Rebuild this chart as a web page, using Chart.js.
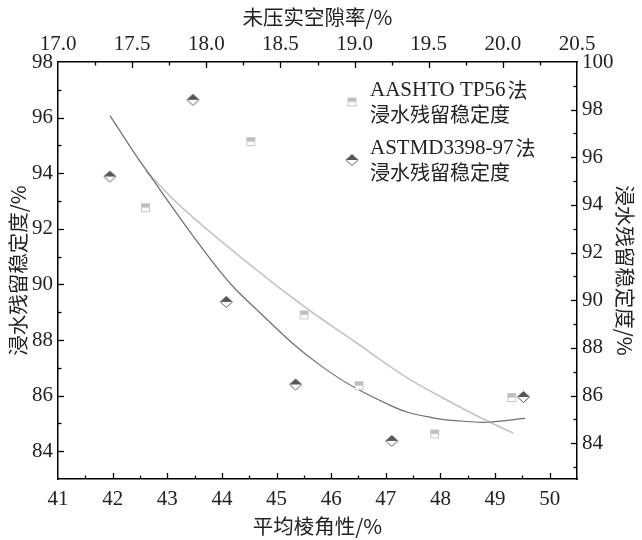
<!DOCTYPE html>
<html>
<head>
<meta charset="utf-8">
<script src="https://cdn.jsdelivr.net/npm/chart.js@4.4.1/dist/chart.umd.min.js"></script>
<style>
  html, body { margin: 0; padding: 0; background: #fff; }
</style>
</head>
<body>
<canvas id="myChart" width="642" height="540"></canvas>
<script>
// ASTM D3398-97 points: bottom axis (angularity) / left axis
const astmAngularity = [41.95, 43.47, 44.08, 45.35, 47.11, 49.52];
const astmStability = [93.88, 96.64, 89.37, 86.40, 84.37, 85.95];

// AASHTO TP56 points: top axis (void ratio) / right axis
const aashtoVoids = [17.59, 18.30, 18.66, 19.03, 19.54, 20.06];
const aashtoStability = [93.89, 96.66, 89.39, 86.42, 84.39, 85.92];

// fitted curves
const astmFitX = [41.95, 42.59, 43.94, 44.60, 45.82, 47.11, 47.84, 48.63, 48.91, 49.55];
const astmFitY = [96.07, 94.18, 90.53, 89.16, 87.06, 85.62, 85.21, 85.05, 85.05, 85.18];
const aashtoFitX = [17.59, 17.84, 18.33, 18.66, 19.00, 19.34, 19.59, 19.81, 20.07];
const aashtoFitY = [95.45, 93.87, 91.32, 89.74, 88.27, 86.81, 85.92, 85.20, 84.42];

// tick labels
const bottomTicks = [41, 42, 43, 44, 45, 46, 47, 48, 49, 50];
const topTicks = [17.0, 17.5, 18.0, 18.5, 19.0, 19.5, 20.0, 20.5];
const leftTicks = [84, 86, 88, 90, 92, 94, 96, 98];
const rightTicks = [84, 86, 88, 90, 92, 94, 96, 98, 100];

const serif = "'Liberation Serif', 'Noto Sans CJK SC', serif";
const cjk = "'Noto Sans CJK SC', 'Liberation Serif', sans-serif";

function toPoints(xs, ys) {
    return xs.map((x, i) => ({ x: x, y: ys[i] }));
}

// half filled diamond marker
function makeDiamond() {
    const c = document.createElement("canvas");
    c.width = 15; c.height = 14;
    const g = c.getContext("2d");
    g.fillStyle = "#fff";
    g.beginPath();
    g.moveTo(7.5, 1.5); g.lineTo(13.5, 7); g.lineTo(7.5, 12.5); g.lineTo(1.5, 7); g.closePath();
    g.fill();
    g.fillStyle = "#555";
    g.beginPath();
    g.moveTo(7.5, 1.5); g.lineTo(13.5, 7); g.lineTo(1.5, 7); g.closePath();
    g.fill();
    g.strokeStyle = "#555";
    g.lineWidth = 1;
    g.beginPath();
    g.moveTo(7.5, 1.5); g.lineTo(13.5, 7); g.lineTo(7.5, 12.5); g.lineTo(1.5, 7); g.closePath();
    g.stroke();
    return c;
}

// half filled square marker
function makeSquare() {
    const c = document.createElement("canvas");
    c.width = 11; c.height = 11;
    const g = c.getContext("2d");
    g.fillStyle = "#fff";
    g.fillRect(1.5, 1.5, 8, 8);
    g.fillStyle = "#bdbdbd";
    g.fillRect(1.5, 1.5, 8, 4);
    g.strokeStyle = "#c8c8c8";
    g.lineWidth = 1;
    g.strokeRect(1.5, 1.5, 8, 8);
    return c;
}

const diamond = makeDiamond();
const square = makeSquare();

function fixTicks(values) {
    return scale => { scale.ticks = values.map(v => ({ value: v })); };
}

// inward tick marks on all four sides
const innerTicks = {
    id: "innerTicks",
    afterDraw(chart) {
        const ctx = chart.ctx;
        const a = chart.chartArea;
        ctx.save();
        ctx.strokeStyle = "#000";
        ctx.lineWidth = 1.3;
        const draw = (scale, values, len) => {
            values.forEach(v => {
                const p = Math.round(scale.getPixelForValue(v)) + 0.5;
                ctx.beginPath();
                if (scale.id === "x") { ctx.moveTo(p, a.bottom); ctx.lineTo(p, a.bottom - len); }
                if (scale.id === "x2") { ctx.moveTo(p, a.top); ctx.lineTo(p, a.top + len); }
                if (scale.id === "y") { ctx.moveTo(a.left, p); ctx.lineTo(a.left + len, p); }
                if (scale.id === "y2") { ctx.moveTo(a.right, p); ctx.lineTo(a.right - len, p); }
                ctx.stroke();
            });
        };
        [["x", bottomTicks], ["x2", topTicks], ["y", leftTicks], ["y2", rightTicks]].forEach(([id, major]) => {
            const s = chart.scales[id];
            const step = major[1] - major[0];
            const minor = [];
            for (let m = major[0] - step / 2; m < s.max - 1e-6; m += step) {
                if (m > s.min + 1e-6) minor.push(m);
            }
            draw(s, major.filter(v => v > s.min && v < s.max), 6);
            draw(s, minor, 3.5);
        });
        ctx.restore();
    }
};

// legend with two-line labels
const twoLineLegend = {
    id: "twoLineLegend",
    afterDraw(chart) {
        const ctx = chart.ctx;
        const a = chart.chartArea;
        const mx = a.left + 294, tx = a.left + 312;
        ctx.save();
        ctx.fillStyle = "#222";
        ctx.textBaseline = "middle";
        ctx.drawImage(square, mx - 5.5, a.top + 40 - 5.5);
        ctx.font = "21px " + serif;
        ctx.fillText("AASHTO TP56", tx, a.top + 28);
        const w1 = ctx.measureText("AASHTO TP56").width;
        ctx.font = "20px " + cjk;
        ctx.fillText("法", tx + w1 + 2, a.top + 28);
        ctx.fillText("浸水残留稳定度", tx, a.top + 52);

        ctx.drawImage(diamond, mx - 7.5, a.top + 98 - 7);
        ctx.font = "21px " + serif;
        ctx.fillText("ASTMD3398-97", tx, a.top + 86);
        const w2 = ctx.measureText("ASTMD3398-97").width;
        ctx.font = "20px " + cjk;
        ctx.fillText("法", tx + w2 + 2, a.top + 86);
        ctx.fillText("浸水残留稳定度", tx, a.top + 110);
        ctx.restore();
    }
};

const tickFont = { family: serif, size: 21 };
const titleFont = { family: cjk, size: 20.5 };

const ctx = document.getElementById("myChart").getContext("2d");

const myChart = new Chart(ctx, {
    type: "scatter",
    data: {
        datasets: [
            {
                label: "AASHTO TP56法浸水残留稳定度",
                data: toPoints(aashtoVoids, aashtoStability),
                xAxisID: "x2",
                yAxisID: "y2",
                pointStyle: square,
                order: 0
            },
            {
                label: "ASTMD3398-97法浸水残留稳定度",
                data: toPoints(astmAngularity, astmStability),
                xAxisID: "x",
                yAxisID: "y",
                pointStyle: diamond,
                order: 0
            },
            {
                type: "line",
                label: "ASTM fit",
                data: toPoints(astmFitX, astmFitY),
                xAxisID: "x",
                yAxisID: "y",
                borderColor: "#6e6e6e",
                borderWidth: 1.2,
                pointRadius: 0,
                tension: 0.4,
                fill: false,
                order: 1
            },
            {
                type: "line",
                label: "AASHTO fit",
                data: toPoints(aashtoFitX, aashtoFitY),
                xAxisID: "x2",
                yAxisID: "y2",
                borderColor: "#c4c4c4",
                borderWidth: 1.6,
                pointRadius: 0,
                tension: 0.4,
                fill: false,
                order: 1
            }
        ]
    },
    options: {
        responsive: false,
        animation: false,
        layout: { padding: 0 },
        scales: {
            x: {
                type: "linear",
                position: "bottom",
                min: 41,
                max: 50.5,
                afterBuildTicks: fixTicks(bottomTicks),
                afterFit: s => { s.height = 61; },
                grid: { display: false, drawTicks: false },
                border: { display: true, color: "#000", width: 1.5 },
                ticks: { font: tickFont, color: "#222", padding: 8, maxRotation: 0 },
                title: { display: true, text: "平均棱角性/%", font: titleFont, color: "#222", padding: { top: 0, bottom: 1 } }
            },
            x2: {
                type: "linear",
                position: "top",
                min: 17,
                max: 20.5,
                afterBuildTicks: fixTicks(topTicks),
                afterFit: s => { s.height = 62; },
                grid: { display: false, drawTicks: false },
                border: { display: true, color: "#000", width: 1.5 },
                ticks: { font: tickFont, color: "#222", padding: 5, maxRotation: 0, callback: v => v.toFixed(1) },
                title: { display: true, text: "未压实空隙率/%", font: titleFont, color: "#222", padding: { top: 5, bottom: 0 } }
            },
            y: {
                type: "linear",
                position: "left",
                min: 83,
                max: 98,
                afterBuildTicks: fixTicks(leftTicks),
                afterFit: s => { s.width = 58; },
                grid: { display: false, drawTicks: false },
                border: { display: true, color: "#000", width: 1.5 },
                ticks: { font: tickFont, color: "#222", padding: 5 },
                title: { display: true, text: "浸水残留稳定度/%", font: titleFont, color: "#222", padding: { top: 6, bottom: 0 } }
            },
            y2: {
                type: "linear",
                position: "right",
                min: 82.5,
                max: 100,
                afterBuildTicks: fixTicks(rightTicks),
                afterFit: s => { s.width = 65; },
                grid: { display: false, drawTicks: false },
                border: { display: true, color: "#000", width: 1.5 },
                ticks: { font: tickFont, color: "#222", padding: 5 },
                title: { display: true, text: "浸水残留稳定度/%", font: titleFont, color: "#222", padding: { top: 5, bottom: 0 } }
            }
        },
        plugins: {
            legend: { display: false },
            tooltip: { enabled: false }
        }
    },
    plugins: [innerTicks, twoLineLegend]
});
</script>
</body>
</html>
